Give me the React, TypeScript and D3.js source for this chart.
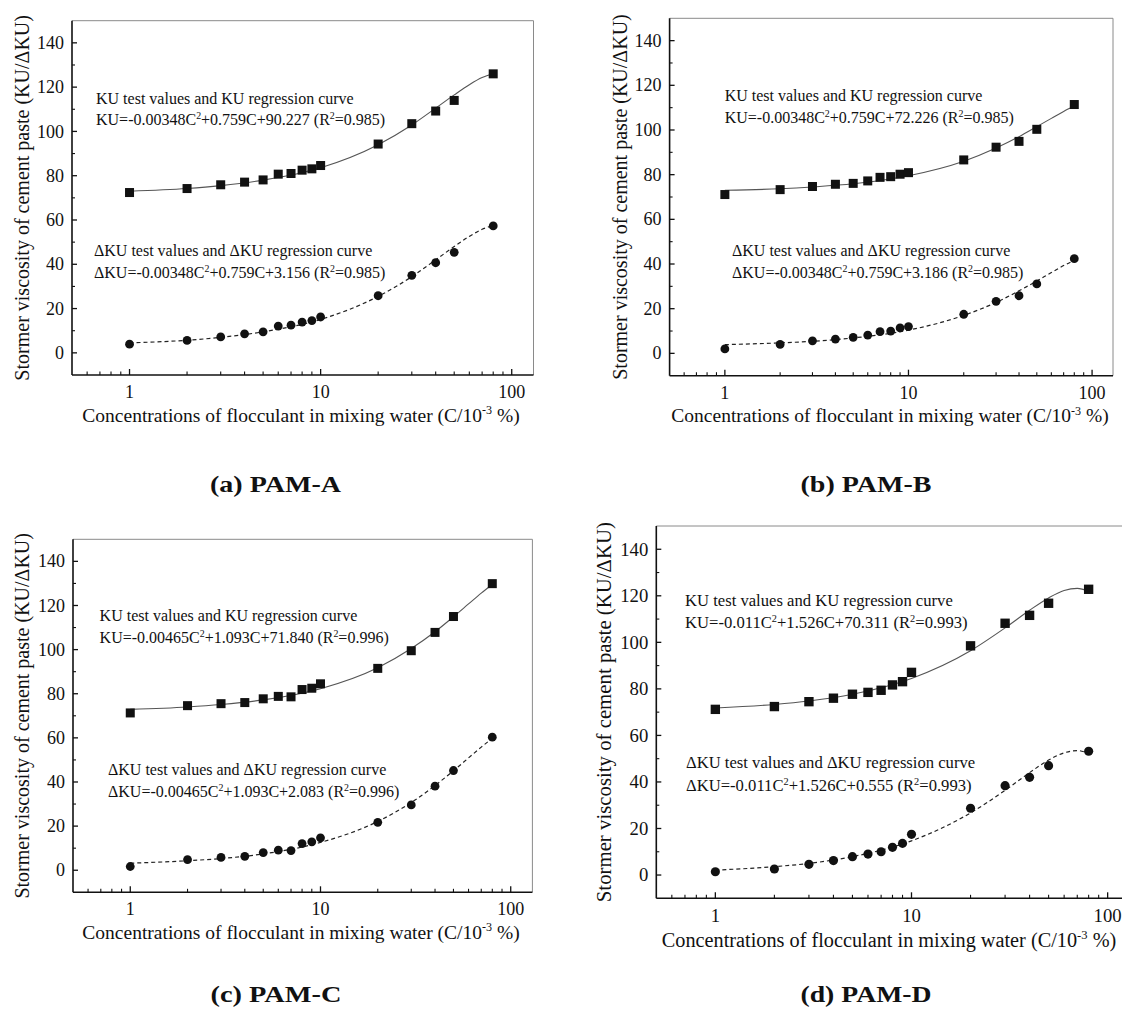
import React from 'react';
import * as d3 from 'd3';

// test concentrations (C/10^-3 %)
const conc = [1, 2, 3, 4, 5, 6, 7, 8, 9, 10, 20, 30, 40, 50, 80];

const kuA = [72.4, 74.2, 75.9, 77.1, 78.1, 80.7, 81.0, 82.5, 83.1, 84.6, 94.3, 103.5, 109.2, 114.0, 126.0];
const dkuA = [3.9, 5.6, 7.2, 8.6, 9.5, 12.1, 12.5, 13.9, 14.6, 16.2, 25.8, 35.0, 40.7, 45.4, 57.3];
const kuB = [71.1, 73.3, 74.7, 75.7, 76.1, 77.2, 78.8, 79.1, 80.2, 80.9, 86.6, 92.3, 94.9, 100.3, 111.4];
const dkuB = [2.0, 4.0, 5.6, 6.4, 7.2, 8.2, 9.7, 10.0, 11.4, 12.0, 17.5, 23.3, 25.8, 31.1, 42.4];
const kuC = [71.3, 74.6, 75.5, 76.0, 77.7, 78.8, 78.6, 81.9, 82.5, 84.5, 91.5, 99.5, 107.8, 115.0, 129.9];
const dkuC = [1.7, 4.8, 5.8, 6.3, 8.0, 9.1, 8.9, 12.1, 12.9, 14.7, 21.7, 29.6, 38.1, 45.2, 60.3];
const kuD = [71.2, 72.4, 74.5, 76.0, 77.7, 78.5, 79.4, 81.7, 83.1, 87.1, 98.5, 108.2, 111.6, 116.8, 122.8];
const dkuD = [1.4, 2.6, 4.6, 6.2, 7.9, 9.0, 10.0, 11.9, 13.6, 17.5, 28.7, 38.4, 42.0, 47.0, 53.2];

// regression curves, read at a few concentrations
const fitConc = [1, 2, 3, 5, 10, 20, 30, 40, 50, 60, 70, 80];
const kuFitA = [73.0, 74.2, 75.5, 78.0, 83.6, 94.0, 102.9, 110.5, 116.5, 121.1, 124.3, 126.0];
const dkuFitA = [4.5, 5.7, 7.0, 9.5, 15.1, 25.5, 34.4, 42.0, 48.0, 52.6, 55.8, 57.5];
const kuFitB = [73.0, 73.7, 74.5, 75.9, 79.5, 86.0, 91.9, 97.0, 101.5, 105.2, 108.3, 110.7];
const dkuFitB = [3.9, 4.7, 5.4, 6.9, 10.4, 17.0, 22.8, 28.0, 32.4, 36.2, 39.3, 41.6];
const kuFitC = [72.9, 74.0, 75.1, 77.2, 82.3, 91.8, 100.5, 108.1, 114.9, 120.7, 125.6, 129.5];
const dkuFitC = [3.2, 4.3, 5.3, 7.4, 12.6, 22.1, 30.7, 38.4, 45.1, 50.9, 55.8, 59.8];
const kuFitD = [71.8, 73.3, 74.8, 77.7, 84.5, 96.4, 106.2, 113.8, 119.1, 122.3, 123.2, 122.0];
const dkuFitD = [2.1, 3.6, 5.0, 7.9, 14.7, 26.7, 36.4, 44.0, 49.4, 52.5, 53.5, 52.2];

const yTicks = [0, 20, 40, 60, 80, 100, 120, 140];
const yMinor = [10, 30, 50, 70, 90, 110, 130];
const xTicks = [1, 10, 100];
const xMinor = [0.6, 0.7, 0.8, 0.9, 2, 3, 4, 5, 6, 7, 8, 9, 20, 30, 40, 50, 60, 70, 80, 90];

const yTitle = 'Stormer viscosity of cement paste (KU/ΔKU)';
const xTitle = 'Concentrations of flocculant in mixing water (C/10^{-3} %)';
const kuNote = 'KU test values and KU regression curve';
const dkuNote = 'ΔKU test values and ΔKU regression curve';
const kuEq = [
  'KU=-0.00348C^{2}+0.759C+90.227 (R^{2}=0.985)',
  'KU=-0.00348C^{2}+0.759C+72.226 (R^{2}=0.985)',
  'KU=-0.00465C^{2}+1.093C+71.840 (R^{2}=0.996)',
  'KU=-0.011C^{2}+1.526C+70.311 (R^{2}=0.993)',
];
const dkuEq = [
  'ΔKU=-0.00348C^{2}+0.759C+3.156 (R^{2}=0.985)',
  'ΔKU=-0.00348C^{2}+0.759C+3.186 (R^{2}=0.985)',
  'ΔKU=-0.00465C^{2}+1.093C+2.083 (R^{2}=0.996)',
  'ΔKU=-0.011C^{2}+1.526C+0.555 (R^{2}=0.993)',
];
const captions = ['(a) PAM-A', '(b) PAM-B', '(c) PAM-C', '(d) PAM-D'];

const series = [
  { ku: kuA, dku: dkuA, kuFit: kuFitA, dkuFit: dkuFitA },
  { ku: kuB, dku: dkuB, kuFit: kuFitB, dkuFit: dkuFitB },
  { ku: kuC, dku: dkuC, kuFit: kuFitC, dkuFit: dkuFitC },
  { ku: kuD, dku: dkuD, kuFit: kuFitD, dkuFit: dkuFitD },
];

// layout of each panel in the page
const panels = [
  { left: 72, right: 533.5, top: 20.7, bottom: 375, k: 1, yTitleX: 22, titleX: 301,
    note1: [96, 98.3], note2: [94, 250.7], capX: 275.5, capY: 491.5 },
  { left: 669.6, right: 1113, top: 18.3, bottom: 375.7, k: 1, yTitleX: 620, titleX: 890,
    note1: [724.7, 95.7], note2: [732, 250.7], capX: 866, capY: 491.5 },
  { left: 73, right: 532.4, top: 539.3, bottom: 892.3, k: 1, yTitleX: 22, titleX: 301,
    note1: [99.6, 615.7], note2: [108, 769.3], capX: 276, capY: 1002 },
  { left: 656.3, right: 1130, top: 526, bottom: 898.3, k: 1.04, yTitleX: 603.5, titleX: 889,
    note1: [685, 600], note2: [686, 762.7], capX: 866, capY: 1002 },
];

const FONT = '"Liberation Serif", "Times New Roman", serif';

function Rich({ str, x, y, fs, anchor = 'start' }: any) {
  const parts = str.split(/\^\{([^}]*)\}/);
  const rise = fs * 0.38;
  return (
    <text x={x} y={y} fontSize={fs} fontFamily={FONT} textAnchor={anchor} fill="#111">
      {parts.map((s: string, j: number) =>
        j % 2 === 1 ? (
          <tspan key={j} dy={-rise} fontSize={fs * 0.62}>{s}</tspan>
        ) : (
          <tspan key={j} dy={j === 0 ? 0 : rise}>{s}</tspan>
        )
      )}
    </text>
  );
}

function Panel({ p, s, i }: any) {
  const x = d3.scaleLog().domain([0.5, 130]).range([p.left, p.right]);
  const y = d3.scaleLinear().domain([-10, 150]).range([p.bottom, p.top]);
  const k = p.k;

  const fitLine = d3.line<number>()
    .x((_, j) => x(fitConc[j]))
    .y((d) => y(d))
    .curve(d3.curveMonotoneX);

  const sq = 9 * k;
  const yMid = (p.top + p.bottom) / 2;

  return (
    <g>
      {/* frame */}
      <line x1={p.left} x2={p.right} y1={p.top} y2={p.top} stroke="#8a8a8a" strokeWidth={1} />
      <line x1={p.right} x2={p.right} y1={p.top} y2={p.bottom} stroke="#8a8a8a" strokeWidth={1} />
      <line x1={p.left} x2={p.left} y1={p.top} y2={p.bottom} stroke="#111" strokeWidth={1.6} />
      <line x1={p.left} x2={p.right} y1={p.bottom} y2={p.bottom} stroke="#111" strokeWidth={1.6} />

      {/* y ticks */}
      {yTicks.map((t) => (
        <g key={'y' + t}>
          <line x1={p.left} x2={p.left + 5} y1={y(t)} y2={y(t)} stroke="#111" strokeWidth={1.3} />
          <text x={p.left - 8} y={y(t)} dy="0.34em" textAnchor="end" fontSize={18 * k} fontFamily={FONT} fill="#111">
            {t}
          </text>
        </g>
      ))}
      {yMinor.map((t) => (
        <line key={'ym' + t} x1={p.left} x2={p.left + 3} y1={y(t)} y2={y(t)} stroke="#111" strokeWidth={1.1} />
      ))}

      {/* x ticks */}
      {xTicks.map((t) => (
        <g key={'x' + t}>
          <line x1={x(t)} x2={x(t)} y1={p.bottom} y2={p.bottom - 6} stroke="#111" strokeWidth={1.3} />
          <text x={x(t)} y={p.bottom + 17 * k} dy="0.34em" textAnchor="middle" fontSize={18 * k} fontFamily={FONT} fill="#111">
            {t}
          </text>
        </g>
      ))}
      {xMinor.map((t) => (
        <line key={'xm' + t} x1={x(t)} x2={x(t)} y1={p.bottom} y2={p.bottom - 3.5} stroke="#111" strokeWidth={1.1} />
      ))}

      {/* axis titles */}
      <text
        transform={`translate(${p.yTitleX},${yMid}) rotate(-90)`}
        dy="0.34em"
        textAnchor="middle"
        fontSize={20 * k}
        fontFamily={FONT}
        fill="#111"
      >
        {yTitle}
      </text>
      <Rich str={xTitle} x={p.titleX} y={p.bottom + 40 * k + 6.5 * k} fs={19.5 * k} anchor="middle" />

      {/* regression curves */}
      <path d={fitLine(s.kuFit) || ''} fill="none" stroke="#555" strokeWidth={1.1} />
      <path d={fitLine(s.dkuFit) || ''} fill="none" stroke="#222" strokeWidth={1.2} strokeDasharray="4 3" />

      {/* test values */}
      {s.ku.map((v: number, j: number) => (
        <rect key={'s' + j} x={x(conc[j]) - sq / 2} y={y(v) - sq / 2} width={sq} height={sq} fill="#111" />
      ))}
      {s.dku.map((v: number, j: number) => (
        <circle key={'c' + j} cx={x(conc[j])} cy={y(v)} r={4.4 * k} fill="#111" />
      ))}

      {/* notes */}
      <Rich str={kuNote} x={p.note1[0]} y={p.note1[1] + 5.5 * k} fs={16 * k} />
      <Rich str={kuEq[i]} x={p.note1[0]} y={p.note1[1] + 21.5 * k + 5.5 * k} fs={16 * k} />
      <Rich str={dkuNote} x={p.note2[0]} y={p.note2[1] + 5.5 * k} fs={16 * k} />
      <Rich str={dkuEq[i]} x={p.note2[0]} y={p.note2[1] + 22 * k + 5.5 * k} fs={16 * k} />

      {/* caption */}
      <text
        x={p.capX}
        y={p.capY}
        textAnchor="middle"
        fontSize={23}
        fontWeight="bold"
        fontFamily={FONT}
        textLength={131}
        lengthAdjust="spacingAndGlyphs"
        fill="#111"
      >
        {captions[i]}
      </text>
    </g>
  );
}

export default function App() {
  return (
    <svg
      width={1122}
      height={1009}
      style={{ position: 'absolute', left: 0, top: 0, background: '#fff' }}
    >
      <rect width={1122} height={1009} fill="#fff" />
      {panels.map((p, i) => (
        <Panel key={i} p={p} s={series[i]} i={i} />
      ))}
    </svg>
  );
}
